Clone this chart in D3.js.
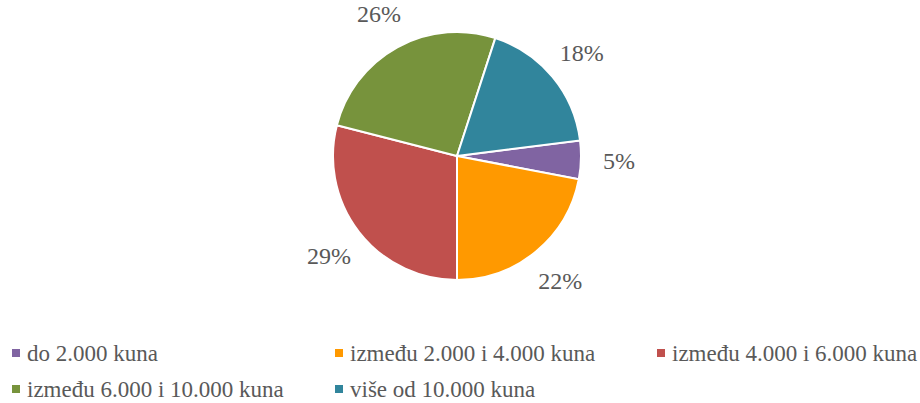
<!DOCTYPE html>
<html>
<head>
<meta charset="utf-8" />
<title>Plaće</title>
<style>
body { margin: 0; background: #fff; }
</style>
</head>
<body>
<div id="chart"></div>
<script src="https://d3js.org/d3.v7.min.js"></script>
<script>
(function (d3) {
	'use strict';

	var categories = ['do 2.000 kuna', 'između 2.000 i 4.000 kuna', 'između 4.000 i 6.000 kuna',
		'između 6.000 i 10.000 kuna', 'više od 10.000 kuna'];
	var shares = [5, 22, 29, 26, 18];
	var colors = ['#8064A2', '#FF9900', '#C0504D', '#77933C', '#31859C'];

	var width = 920;
	var height = 403;
	var radius = 124;
	var cx = 457, cy = 156;
	var firstAngle = 82.8; // degrees, clockwise from 12 o'clock
	var fontFamily = "'Liberation Serif', 'Times New Roman', serif";
	var textColor = '#595959';

	var color = d3.scaleOrdinal().domain(categories).range(colors);

	var svg = d3.select('#chart').append('svg')
		.attr('width', width).attr('height', height)
		.style('font-family', fontFamily);

	var g = svg.append('g').attr('transform', 'translate(' + cx + ',' + cy + ')');

	var data = categories.map(function (c, i) { return { name: c, value: shares[i] }; });

	var start = firstAngle * Math.PI / 180;
	var pie = d3.pie().value(function (d) { return d.value; }).sort(null)
		.startAngle(start).endAngle(start + 2 * Math.PI);

	var arc = d3.arc().innerRadius(0).outerRadius(radius);
	var labelArc = d3.arc().innerRadius(162).outerRadius(162);

	g.selectAll('path').data(pie(data)).enter().append('path')
		.attr('d', arc)
		.attr('fill', function (d) { return color(d.data.name); })
		.attr('stroke', '#fff')
		.attr('stroke-width', 2);

	g.selectAll('text.pct').data(pie(data)).enter().append('text')
		.attr('class', 'pct')
		.attr('transform', function (d) { return 'translate(' + labelArc.centroid(d) + ')'; })
		.attr('text-anchor', 'middle')
		.attr('dy', '0.35em')
		.style('font-family', fontFamily)
		.style('font-size', '24px')
		.style('fill', textColor)
		.text(function (d) { return d.data.value + '%'; });

	// legend, 3 per row
	var colX = [12, 335, 657];
	var rowY = [353, 389];
	var legend = svg.selectAll('g.legend').data(categories).enter().append('g')
		.attr('class', 'legend')
		.attr('transform', function (d, i) {
			return 'translate(' + colX[i % 3] + ',' + rowY[Math.floor(i / 3)] + ')';
		});

	legend.append('rect')
		.attr('x', 0).attr('y', -4)
		.attr('width', 8).attr('height', 8)
		.attr('fill', color);

	legend.append('text')
		.attr('x', 15).attr('y', 0)
		.attr('dy', '0.35em')
		.style('font-family', fontFamily)
		.style('font-size', '23px')
		.style('fill', textColor)
		.text(function (d) { return d; });

})(window.d3);
</script>
</body>
</html>
